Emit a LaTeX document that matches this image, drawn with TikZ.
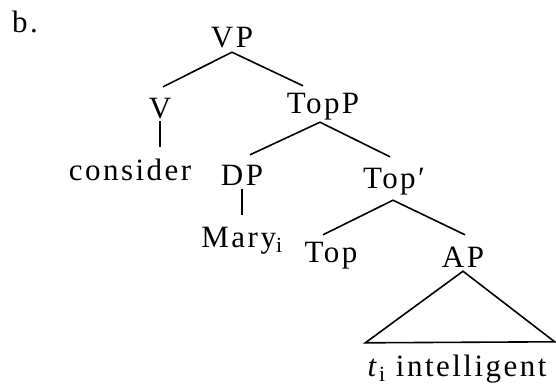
\documentclass[tikz,border=0pt]{standalone}
\usepackage{fontspec}
\setmainfont{Liberation Serif}[LetterSpace=8]
\usepackage{tikz}
\tikzset{
  tree-label/.style={font=\fontsize{31}{37}\selectfont, inner sep=0pt,
    text height=20pt, text depth=0pt, anchor=base},
  tree-branch/.style={draw=black, line width=1.6pt, line join=miter}
}

\begin{document}
\begin{tikzpicture}[x=1pt, y=1pt]
  \useasboundingbox (0,0) rectangle (556,-391);

  % Example mark
  \node[tree-label, anchor=base west] (mark) at (12,-32) {b.};

  % Labels (baseline positions)
  \node[tree-label] (vp) at (232,-47) {VP};
  \node[tree-label] (v) at (160,-118) {V};
  \node[tree-label] (topp) at (323,-113) {TopP};
  \node[tree-label] (consider) at (130,-180) {consider};
  \node[tree-label] (dp) at (242,-185) {DP};
  \node[tree-label] (mary) at (242,-247) {Mary\textsubscript{i}};
  \node[tree-label] (topbar) at (394,-188) {Top′};
  \node[tree-label] (top) at (331,-262) {Top};
  \node[tree-label] (ap) at (463,-267) {AP};
  \node[tree-label] (ti) at (457,-376) {\textit{t}\textsubscript{i} intelligent};

  % Branches
  \draw[tree-branch] ([yshift=-5pt]vp.south) -- ([xshift=3pt,yshift=11pt]v.north);
  \draw[tree-branch] ([yshift=-5pt]vp.south) -- ([xshift=-20pt,yshift=7pt]topp.north);
  \draw[tree-branch] ([yshift=-3pt]v.south) -- ([xshift=30pt,yshift=13pt]consider.north);
  \draw[tree-branch] ([xshift=-3pt,yshift=-9pt]topp.south) -- ([xshift=8pt,yshift=10pt]dp.north);
  \draw[tree-branch] ([xshift=-3pt,yshift=-9pt]topp.south) -- ([xshift=-4pt,yshift=11pt]topbar.north);
  \draw[tree-branch] ([yshift=-4pt]dp.south) -- ([yshift=12pt]mary.north);
  \draw[tree-branch] ([xshift=-1pt,yshift=-12pt]topbar.south) -- ([xshift=-8pt,yshift=7pt]top.north);
  \draw[tree-branch] ([xshift=-1pt,yshift=-12pt]topbar.south) -- ([xshift=2pt,yshift=12pt]ap.north);

  % Triangle over AP
  \draw[tree-branch] ([yshift=-4pt]ap.south) -- ([xshift=-2pt,yshift=13pt]ti.north west)
    -- ([xshift=8pt,yshift=14pt]ti.north east) -- cycle;
\end{tikzpicture}
\end{document}
